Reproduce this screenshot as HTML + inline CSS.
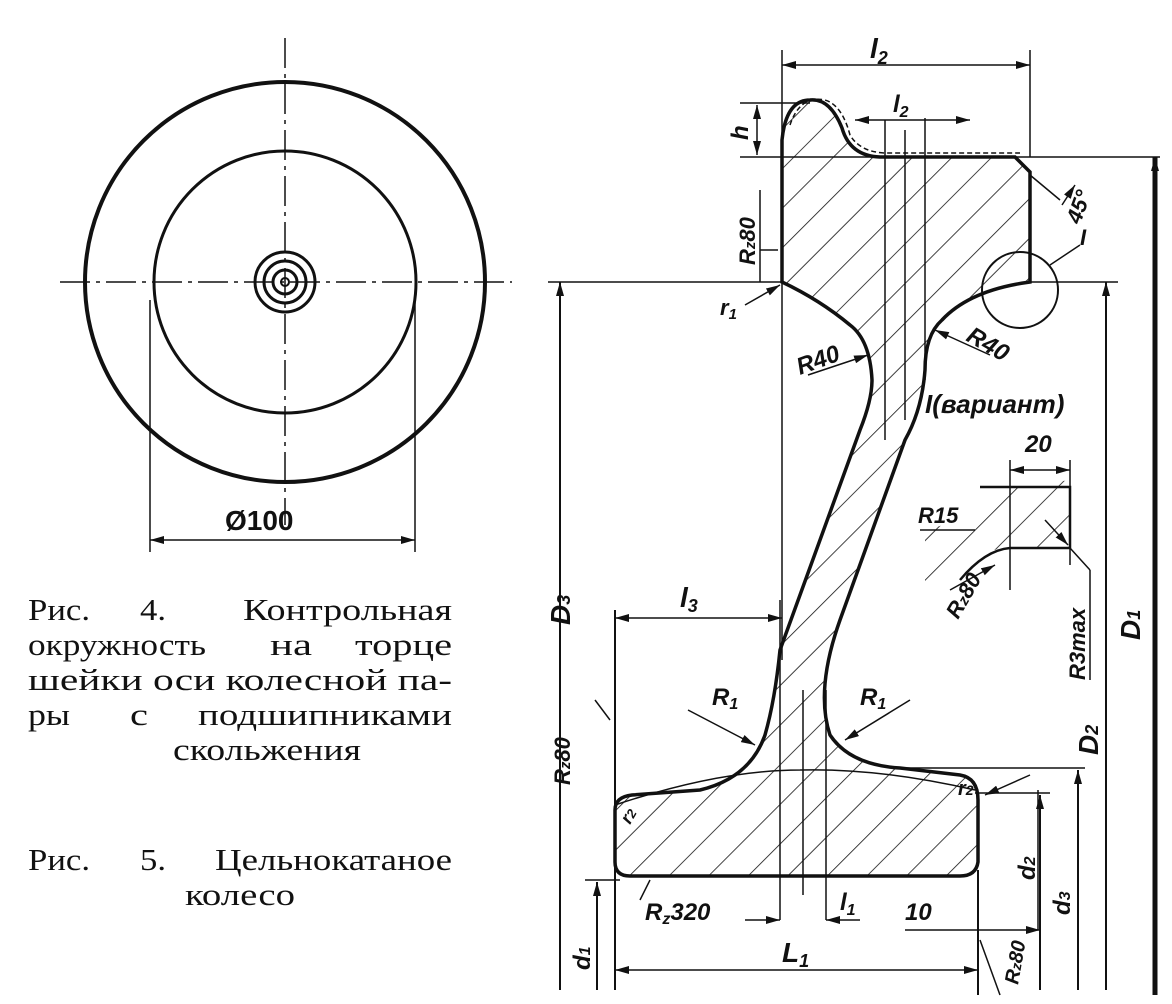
<!DOCTYPE html>
<html><head><meta charset="utf-8"><style>
html,body{margin:0;padding:0;background:#fff}
svg{display:block}
.t{font-family:"Liberation Sans",sans-serif;font-style:italic;font-weight:bold;fill:#111}
.c{font-family:"Liberation Serif",serif;font-size:31px;fill:#111}
</style></head><body>
<svg width="1172" height="1004" viewBox="0 0 1172 1004" xmlns="http://www.w3.org/2000/svg">
<defs>
<pattern id="h" patternUnits="userSpaceOnUse" width="28" height="28" patternTransform="rotate(45)">
<line x1="0" y1="0" x2="0" y2="28" stroke="#111" stroke-width="1.6"/>
</pattern>
<marker id="a" markerWidth="14" markerHeight="8" refX="14" refY="4" orient="auto" markerUnits="userSpaceOnUse"><path d="M0,0 L14,4 L0,8 z" fill="#111"/></marker>
<marker id="s" markerWidth="14" markerHeight="8" refX="0" refY="4" orient="auto" markerUnits="userSpaceOnUse"><path d="M14,0 L0,4 L14,8 z" fill="#111"/></marker>
</defs>
<g stroke="#111" fill="none">
<circle cx="285" cy="282" r="200" stroke-width="4"/>
<circle cx="285" cy="282" r="131" stroke-width="3"/>
<circle cx="285" cy="282" r="30" stroke-width="3"/>
<circle cx="285" cy="282" r="21" stroke-width="3"/>
<circle cx="285" cy="282" r="12" stroke-width="3"/>
<circle cx="285" cy="282" r="4" stroke-width="2"/>
<line x1="60" y1="282" x2="512" y2="282" stroke-width="1.5" stroke-dasharray="30,6,4,6"/>
<line x1="285" y1="38" x2="285" y2="525" stroke-width="1.5" stroke-dasharray="30,6,4,6"/>
<line x1="150" y1="300" x2="150" y2="552" stroke-width="1.5"/>
<line x1="415" y1="300" x2="415" y2="552" stroke-width="1.5"/>
<line x1="150" y1="540" x2="415" y2="540" stroke-width="1.5" marker-start="url(#s)" marker-end="url(#a)"/>

<path d="M782,282 L782,140 Q786,100 810,100 Q830,98 842,128 Q850,156 880,157 L1015,157 L1030,172 L1030,282 Q970,290 942,320 Q925,335 925,370 Q922,410 905,440 L840,620 Q815,690 830,735 Q850,765 900,768 L960,775 Q978,778 978,800 L978,862 Q976,876 960,876 L630,876 Q615,876 615,862 L615,810 Q615,797 632,795 L700,790 Q750,778 765,735 Q775,700 780,650 L860,430 Q872,400 872,380 Q870,340 850,325 Q820,300 782,282 Z" fill="url(#h)" stroke-width="3.5"/>
<path d="M790,125 Q800,95 825,100 Q842,105 850,135 Q860,152 885,153 L1020,153" stroke-width="1.5" stroke-dasharray="5,3"/>
<path d="M615,805 Q720,770 800,770 Q880,768 975,790" stroke-width="1.5"/>
<line x1="885" y1="120" x2="885" y2="440" stroke-width="1.5"/>
<line x1="905" y1="130" x2="905" y2="420" stroke-width="1.5"/>
<line x1="925" y1="118" x2="925" y2="380" stroke-width="1.5"/>
<line x1="780" y1="600" x2="780" y2="920" stroke-width="1.5"/>
<line x1="803" y1="690" x2="803" y2="895" stroke-width="1.5"/>
<line x1="826" y1="690" x2="826" y2="920" stroke-width="1.5"/>
<line x1="1038" y1="790" x2="1038" y2="930" stroke-width="1.5"/>
<line x1="782" y1="282" x2="782" y2="660" stroke-width="1.5"/>
<line x1="782" y1="50" x2="782" y2="140" stroke-width="1.5"/>
<line x1="1030" y1="50" x2="1030" y2="157" stroke-width="1.5"/>
<line x1="782" y1="65" x2="1030" y2="65" stroke-width="1.5" marker-start="url(#s)" marker-end="url(#a)"/>
<line x1="855" y1="120" x2="970" y2="120" stroke-width="1.5" marker-start="url(#s)" marker-end="url(#a)"/>
<line x1="740" y1="103" x2="810" y2="103" stroke-width="1.5"/>
<line x1="740" y1="157" x2="1160" y2="157" stroke-width="1.5"/>
<line x1="757" y1="105" x2="757" y2="155" stroke-width="1.5" marker-start="url(#s)" marker-end="url(#a)"/>
<line x1="548" y1="282" x2="782" y2="282" stroke-width="1.5"/>
<line x1="1030" y1="282" x2="1118" y2="282" stroke-width="1.5"/>
<line x1="560" y1="282" x2="560" y2="990" stroke-width="2" marker-start="url(#s)"/>
<line x1="1155" y1="157" x2="1155" y2="995" stroke-width="5" marker-start="url(#s)"/>
<line x1="1106" y1="282" x2="1106" y2="990" stroke-width="2" marker-start="url(#s)"/>
<line x1="900" y1="768" x2="1085" y2="768" stroke-width="1.5"/>
<line x1="1078" y1="770" x2="1078" y2="990" stroke-width="2" marker-start="url(#s)"/>
<line x1="975" y1="793" x2="1050" y2="793" stroke-width="1.5"/>
<line x1="1040" y1="795" x2="1040" y2="990" stroke-width="2" marker-start="url(#s)"/>
<line x1="585" y1="880" x2="620" y2="880" stroke-width="1.5"/>
<line x1="597" y1="882" x2="597" y2="990" stroke-width="2" marker-start="url(#s)"/>
<line x1="615" y1="610" x2="615" y2="990" stroke-width="2"/>
<line x1="978" y1="870" x2="978" y2="995" stroke-width="2"/>
<line x1="615" y1="618" x2="782" y2="618" stroke-width="1.5" marker-start="url(#s)" marker-end="url(#a)"/>
<line x1="615" y1="970" x2="978" y2="970" stroke-width="1.5" marker-start="url(#s)" marker-end="url(#a)"/>
<line x1="745" y1="920" x2="780" y2="920" stroke-width="1.5" marker-end="url(#a)"/>
<line x1="860" y1="920" x2="826" y2="920" stroke-width="1.5" marker-end="url(#a)"/>
<line x1="905" y1="930" x2="1040" y2="930" stroke-width="1.5" marker-end="url(#a)"/>
<line x1="745" y1="305" x2="780" y2="285" stroke-width="1.5" marker-end="url(#a)"/>
<line x1="808" y1="375" x2="868" y2="355" stroke-width="1.5" marker-end="url(#a)"/>
<line x1="990" y1="355" x2="935" y2="330" stroke-width="1.5" marker-end="url(#a)"/>
<line x1="688" y1="710" x2="755" y2="745" stroke-width="1.5" marker-end="url(#a)"/>
<line x1="910" y1="700" x2="845" y2="740" stroke-width="1.5" marker-end="url(#a)"/>
<line x1="1030" y1="775" x2="985" y2="795" stroke-width="1.5" marker-end="url(#a)"/>
<line x1="1030" y1="175" x2="1060" y2="200" stroke-width="1.5"/>
<line x1="1062" y1="205" x2="1075" y2="185" stroke-width="1.5" marker-end="url(#a)"/>
<circle cx="1020" cy="290" r="38" stroke-width="2"/>
<line x1="1050" y1="265" x2="1080" y2="245" stroke-width="1.5"/>
<line x1="760" y1="250" x2="778" y2="250" stroke-width="1.5"/>
<line x1="760" y1="190" x2="760" y2="282" stroke-width="1.5"/>
<line x1="610" y1="720" x2="595" y2="700" stroke-width="1.5"/>
<line x1="650" y1="880" x2="640" y2="900" stroke-width="1.5"/>
<line x1="980" y1="940" x2="1000" y2="995" stroke-width="1.5"/>
<path d="M925,530 Q970,520 1000,490 L1070,480 L1070,548 L1010,548 Q990,548 970,560 L945,590 L925,590 Z" fill="url(#h)" stroke="none"/>
<path d="M980,487 L1070,487 L1070,548 L1010,548 Q985,550 960,580" stroke-width="2.5"/>
<line x1="1010" y1="460" x2="1010" y2="590" stroke-width="1.5"/>
<line x1="1070" y1="460" x2="1070" y2="565" stroke-width="1.5"/>
<line x1="1010" y1="470" x2="1070" y2="470" stroke-width="1.5" marker-start="url(#s)" marker-end="url(#a)"/>
<line x1="920" y1="530" x2="975" y2="530" stroke-width="1.5"/>
<line x1="1070" y1="548" x2="1090" y2="570" stroke-width="1.5"/>
<line x1="1090" y1="570" x2="1090" y2="680" stroke-width="1.5"/>
<line x1="1045" y1="520" x2="1068" y2="545" stroke-width="1.5" marker-end="url(#a)"/>
<line x1="950" y1="590" x2="995" y2="565" stroke-width="1.5" marker-end="url(#a)"/>
</g>
<g class="t">
<text x="870" y="58" font-size="28">l<tspan font-size="18" dy="6">2</tspan></text>
<text x="893" y="112" font-size="24">l<tspan font-size="16" dy="5">2</tspan></text>
<text x="748" y="140" font-size="24" transform="rotate(-90 748 140)">h</text>
<text x="755" y="265" font-size="22" transform="rotate(-90 755 265)">R<tspan font-size="15">z</tspan>80</text>
<text x="720" y="315" font-size="22">r<tspan font-size="15" dy="4">1</tspan></text>
<text x="800" y="375" font-size="24" transform="rotate(-20 800 375)">R40</text>
<text x="965" y="340" font-size="24" transform="rotate(30 965 340)">R40</text>
<text x="1080" y="225" font-size="22" transform="rotate(-70 1080 225)">45°</text>
<text x="1080" y="245" font-size="22">I</text>
<text x="925" y="413" font-size="26">I(вариант)</text>
<text x="1025" y="452" font-size="24">20</text>
<text x="918" y="523" font-size="22">R15</text>
<text x="958" y="620" font-size="22" transform="rotate(-60 958 620)">R<tspan font-size="15">z</tspan>80</text>
<text x="1085" y="680" font-size="22" transform="rotate(-90 1085 680)">R3max</text>
<text x="1140" y="640" font-size="28" transform="rotate(-90 1140 640)">D<tspan font-size="18">1</tspan></text>
<text x="1098" y="755" font-size="28" transform="rotate(-90 1098 755)">D<tspan font-size="18">2</tspan></text>
<text x="570" y="625" font-size="28" transform="rotate(-90 570 625)">D<tspan font-size="18">3</tspan></text>
<text x="680" y="607" font-size="28">l<tspan font-size="18" dy="5">3</tspan></text>
<text x="712" y="705" font-size="24">R<tspan font-size="16" dy="4">1</tspan></text>
<text x="860" y="705" font-size="24">R<tspan font-size="16" dy="4">1</tspan></text>
<text x="570" y="785" font-size="22" transform="rotate(-90 570 785)">R<tspan font-size="15">z</tspan>80</text>
<text x="630" y="825" font-size="18" transform="rotate(-60 630 825)">r<tspan font-size="13">2</tspan></text>
<text x="958" y="795" font-size="20">r<tspan font-size="14">2</tspan></text>
<text x="1035" y="880" font-size="24" transform="rotate(-90 1035 880)">d<tspan font-size="16">2</tspan></text>
<text x="1070" y="915" font-size="24" transform="rotate(-90 1070 915)">d<tspan font-size="16">3</tspan></text>
<text x="590" y="970" font-size="24" transform="rotate(-90 590 970)">d<tspan font-size="16">1</tspan></text>
<text x="645" y="920" font-size="24">R<tspan font-size="16" dy="4">z</tspan><tspan dy="-4">320</tspan></text>
<text x="840" y="910" font-size="24">l<tspan font-size="16" dy="5">1</tspan></text>
<text x="905" y="920" font-size="24">10</text>
<text x="782" y="962" font-size="28">L<tspan font-size="18" dy="5">1</tspan></text>
<text x="1018" y="985" font-size="20" transform="rotate(-80 1018 985)">R<tspan font-size="14">z</tspan>80</text>
<text x="225" y="530" font-size="28" font-style="normal">Ø100</text>
</g>
<g class="c">
<text x="28" y="620" textLength="62" lengthAdjust="spacingAndGlyphs">Рис.</text>
<text x="140" y="620" textLength="26" lengthAdjust="spacingAndGlyphs">4.</text>
<text x="243" y="620" textLength="209" lengthAdjust="spacingAndGlyphs">Контрольная</text>
<text x="28" y="655" textLength="178" lengthAdjust="spacingAndGlyphs">окружность</text>
<text x="270" y="655" textLength="42" lengthAdjust="spacingAndGlyphs">на</text>
<text x="355" y="655" textLength="97" lengthAdjust="spacingAndGlyphs">торце</text>
<text x="28" y="690" textLength="424" lengthAdjust="spacingAndGlyphs">шейки оси колесной па-</text>
<text x="28" y="725" textLength="42" lengthAdjust="spacingAndGlyphs">ры</text>
<text x="130" y="725" textLength="18" lengthAdjust="spacingAndGlyphs">с</text>
<text x="198" y="725" textLength="254" lengthAdjust="spacingAndGlyphs">подшипниками</text>
<text x="173" y="760" textLength="188" lengthAdjust="spacingAndGlyphs">скольжения</text>
<text x="28" y="870" textLength="62" lengthAdjust="spacingAndGlyphs">Рис.</text>
<text x="140" y="870" textLength="26" lengthAdjust="spacingAndGlyphs">5.</text>
<text x="215" y="870" textLength="237" lengthAdjust="spacingAndGlyphs">Цельнокатаное</text>
<text x="185" y="905" textLength="110" lengthAdjust="spacingAndGlyphs">колесо</text>
</g>
</svg>
</body></html>
